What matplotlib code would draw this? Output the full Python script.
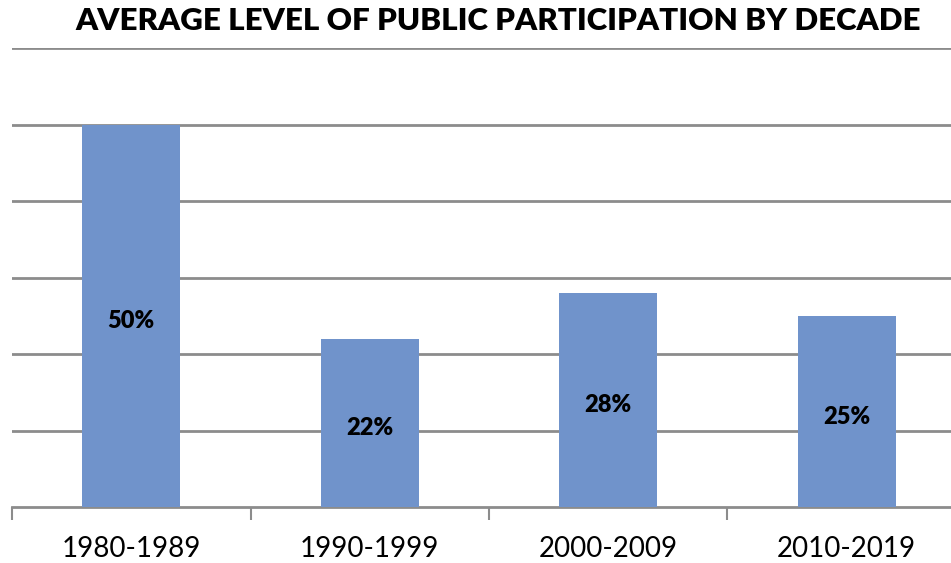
import numpy as np
import matplotlib.pyplot as plt

decades = ["1980-1989", "1990-1999", "2000-2009", "2010-2019"]
participation = [50, 22, 28, 25]

plt.rcParams["font.family"] = ["Lato", "DejaVu Sans"]

fig = plt.figure(figsize=(9.51, 5.63), dpi=100)
ax = fig.add_axes([12 / 951, 1 - 507 / 563, 954 / 951, (507 - 48) / 563])

x = np.arange(len(decades))
ax.bar(x, participation, width=0.41, color="#7093CB", zorder=3)
for xi, v in zip(x, participation):
    ax.annotate(f"{v}%", (xi, v / 2), xytext=(0, -4), textcoords="offset points",
                ha="center", va="center", fontsize=17, fontweight="heavy",
                color="black", zorder=4)

ax.set_xlim(-0.5, len(decades) - 0.5)
ax.set_ylim(0, 60)
ax.set_yticks(np.arange(10, 61, 10))
ax.yaxis.grid(True, color="#8c8c8c", linewidth=2, zorder=0)
ax.tick_params(axis="y", left=False, labelleft=False)

# category boundaries carry the tick marks, labels sit under the bars
ax.set_xticks(np.arange(-0.5, len(decades), 1.0))
ax.set_xticklabels([])
ax.set_xticks(x, minor=True)
ax.set_xticklabels(decades, minor=True, fontsize=20)
ax.tick_params(axis="x", which="major", length=9, width=1.5, color="#8c8c8c")
ax.tick_params(axis="x", which="minor", length=0, pad=21)

for side in ["top", "right", "left"]:
    ax.spines[side].set_visible(False)
ax.spines["bottom"].set_color("#8c8c8c")
ax.spines["bottom"].set_linewidth(2)

fig.text(498 / 951, 1 - 21 / 563, "AVERAGE LEVEL OF PUBLIC PARTICIPATION BY DECADE",
         ha="center", va="center", fontsize=22.5, fontweight="heavy")

fig.savefig("out.png", dpi=100)
